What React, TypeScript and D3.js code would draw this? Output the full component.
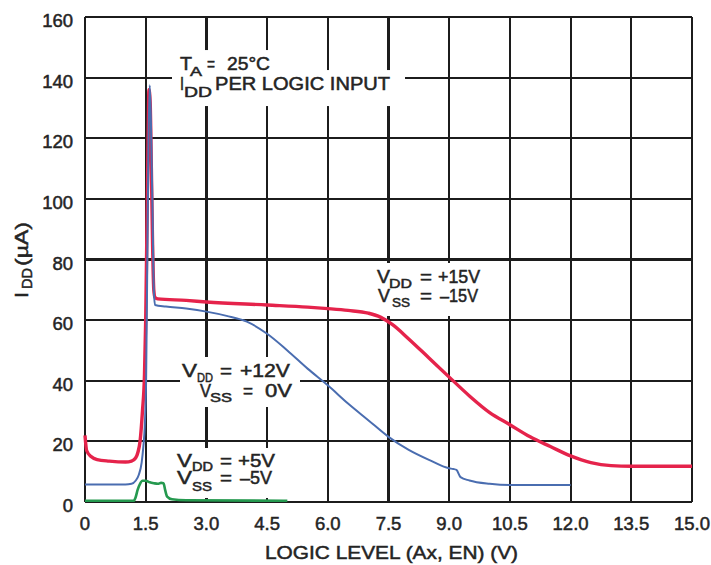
import React from "react";
import * as d3 from "d3";

const W = 711;
const H = 565;

const xTicks = [0, 1.5, 3, 4.5, 6, 7.5, 9, 10.5, 12, 13.5, 15];
const xTickLabels = ["0", "1.5", "3.0", "4.5", "6.0", "7.5", "9.0", "10.5", "12.0", "13.5", "15.0"];
const yTicks = [0, 20, 40, 60, 80, 100, 120, 140, 160];
const yTickLabels = ["0", "20", "40", "60", "80", "100", "120", "140", "160"];

// VDD = +15V, VSS = -15V
const redX = [0, 0.04, 0.15, 0.3, 0.6, 1.0, 1.15, 1.25, 1.31, 1.36, 1.42, 1.47, 1.5, 1.53, 1.56, 1.58, 1.61, 1.64, 1.67, 1.7, 1.73, 1.8, 2.5, 3.0, 4.5, 5.5, 6.0, 6.5, 7.0, 7.3, 7.6, 8.0, 8.5, 9.0, 9.5, 10.0, 10.5, 11.0, 11.5, 12.0, 12.5, 13.0, 13.5, 15.0];
const redY = [22, 17, 15, 14, 13.5, 13.2, 13.5, 14.5, 16.5, 20, 30, 42, 60, 90, 120, 136, 132, 110, 85, 70, 67.5, 67, 66.5, 66, 65, 64.3, 63.8, 63.2, 62.3, 61, 58.5, 53.8, 47.5, 41.2, 35, 29.5, 25.5, 21.5, 18.3, 15.2, 13, 12, 11.8, 11.8];

// VDD = +12V, VSS = 0V
const blueX = [0, 0.5, 1.0, 1.15, 1.25, 1.33, 1.4, 1.44, 1.48, 1.51, 1.54, 1.57, 1.6, 1.63, 1.67, 1.7, 1.73, 2.0, 2.5, 3.0, 3.5, 4.0, 4.5, 5.0, 5.5, 6.0, 6.5, 7.0, 7.5, 8.0, 8.5, 9.0, 9.1, 9.18, 9.28, 9.5, 10.0, 10.5, 12.0];
const blueY = [5.8, 5.8, 5.8, 6.0, 7, 9, 13, 18, 26, 40, 80, 120, 137.5, 125, 95, 70, 65, 64.5, 63.8, 62.8, 61.4, 59.5, 55.5, 50, 44, 38.5, 32.5, 27, 21.5, 17.2, 13.9, 11.1, 10.9, 10.6, 8.2, 7.1, 6, 5.6, 5.6];

// VDD = +5V, VSS = -5V
const greenX = [0, 1.2, 1.25, 1.3, 1.36, 1.42, 1.5, 1.6, 1.7, 1.8, 1.88, 1.94, 1.98, 2.03, 2.15, 2.5, 5.0];
const greenY = [0.4, 0.4, 1.5, 4, 6, 7, 7, 6.5, 6.2, 6, 6.3, 6.2, 4, 1.8, 0.9, 0.6, 0.4];

type Piece = [string, number, number, number, number];
type Ann = { ax: number; ay: number; boxes: number[][]; pieces: Piece[] };

const annotations: Ann[] = [
  {
    ax: 2.348, ay: 142.5,
    boxes: [[-8, -20, 108, 30], [-8, 0, 233, 36]],
    pieces: [
      ["T", 0, 0, 12, 18], ["A", 10, 6, 12, 13], ["=", 27, 0, 8, 18], ["25°C", 47, 0, 43, 18],
      ["I", 0, 20, 4, 18], ["DD", 4, 27, 28, 14], ["PER LOGIC INPUT", 35, 20, 175, 18],
    ],
  },
  {
    ax: 2.397, ay: 41.24,
    boxes: [[-2, -20, 120, 50]],
    pieces: [
      ["V", 0, 0, 15, 18], ["DD", 15, 5, 16, 13], ["=", 38, 0, 12, 18], ["+12V", 58, 0, 50, 18],
      ["V", 18, 20, 11, 18], ["SS", 28, 25, 22, 13], ["=", 61, 20, 10, 18], ["0V", 83, 20, 27, 18],
    ],
  },
  {
    ax: 2.273, ay: 11.55,
    boxes: [[-5, -19, 108, 50]],
    pieces: [
      ["V", 0, 0, 15, 18], ["DD", 15, 4, 21, 12], ["=", 43, 0, 12, 18], ["+5V", 61, 0, 37, 18],
      ["V", 0, 17, 15, 18], ["SS", 15, 24, 20, 13], ["=", 43, 17, 12, 18], ["–5V", 63, 17, 32, 18],
    ],
  },
  {
    ax: 7.216, ay: 72.25,
    boxes: [[-5, -20, 113, 53]],
    pieces: [
      ["V", 0, 0, 13, 18], ["DD", 12, 5, 23, 13], ["=", 43, 0, 12, 18], ["+15V", 61, 0, 42, 18],
      ["V", 1, 19, 12, 18], ["SS", 15, 24, 18, 13], ["=", 43, 19, 12, 18], ["–15V", 63, 19, 38, 18],
    ],
  },
];

const FONT = "'Liberation Sans', Arial, Helvetica, sans-serif";
const INK = "#242424";
const GRID = "#1c1c1c";

export default function App() {
  const x = d3.scaleLinear().domain([0, 15]).range([85, 692]);
  const y = d3.scaleLinear().domain([0, 160]).range([502, 17]);

  const mk = (xs: number[], ys: number[]) =>
    d3.line<number>().x((d) => x(xs[d])).y((d) => y(ys[d])).curve(d3.curveMonotoneX)(xs.map((_, i) => i)) || "";

  const textStyle = { fontFamily: FONT, fill: INK, stroke: INK, strokeWidth: 0.5 } as React.CSSProperties;

  return (
    <svg width={W} height={H} style={{ position: "absolute", left: 0, top: 0, background: "#fff" }}>
      <rect x={0} y={0} width={W} height={H} fill="#fff" />
      {/* grid */}
      <g stroke={GRID} strokeWidth={2.2} shapeRendering="crispEdges">
        {xTicks.map((t) => (
          <line key={"vx" + t} x1={x(t)} x2={x(t)} y1={y(160)} y2={y(0)} />
        ))}
        {yTicks.map((t) => (
          <line key={"hy" + t} x1={x(0)} x2={x(15)} y1={y(t)} y2={y(t)} />
        ))}
      </g>
      {/* white boxes behind labels */}
      {annotations.map((a, i) => (
        <g key={"b" + i}>
          {a.boxes.map((b, j) => (
            <rect key={j} x={x(a.ax) + b[0]} y={y(a.ay) + b[1]} width={b[2]} height={b[3]} fill="#fff" />
          ))}
        </g>
      ))}
      {/* curves */}
      <path d={mk(redX, redY)} fill="none" stroke="#e5234b" strokeWidth={3.4} strokeLinejoin="round" />
      <path d={mk(blueX, blueY)} fill="none" stroke="#4a6db0" strokeWidth={2} strokeLinejoin="round" />
      <path d={mk(greenX, greenY)} fill="none" stroke="#25994f" strokeWidth={2.6} strokeLinejoin="round" />
      {/* annotations */}
      {annotations.map((a, i) => (
        <g key={"a" + i} style={textStyle}>
          {a.pieces.map((p, j) => (
            <text key={j} x={x(a.ax) + p[1]} y={y(a.ay) + p[2]} fontSize={p[4]} textLength={p[3]} lengthAdjust="spacingAndGlyphs">
              {p[0]}
            </text>
          ))}
        </g>
      ))}
      {/* tick labels */}
      <g style={textStyle} fontSize={18.5}>
        {yTicks.map((t, i) => (
          <text key={"yl" + t} x={73} y={y(t) + 10} textAnchor="end">
            {yTickLabels[i]}
          </text>
        ))}
        {xTicks.map((t, i) => (
          <text key={"xl" + t} x={x(t)} y={530} textAnchor="middle">
            {xTickLabels[i]}
          </text>
        ))}
      </g>
      {/* axis titles */}
      <text x={265} y={559} fontSize={19} textLength={253} lengthAdjust="spacingAndGlyphs" style={textStyle}>
        LOGIC LEVEL (Ax, EN) (V)
      </text>
      <g transform="translate(28,298) rotate(-90)" style={textStyle}>
        <text x={0} y={0} fontSize={19} textLength={6} lengthAdjust="spacingAndGlyphs">I</text>
        <text x={9} y={4} fontSize={15} textLength={21} lengthAdjust="spacingAndGlyphs">DD</text>
        <text x={32} y={0} fontSize={19} textLength={44} lengthAdjust="spacingAndGlyphs">(µA)</text>
      </g>
    </svg>
  );
}
